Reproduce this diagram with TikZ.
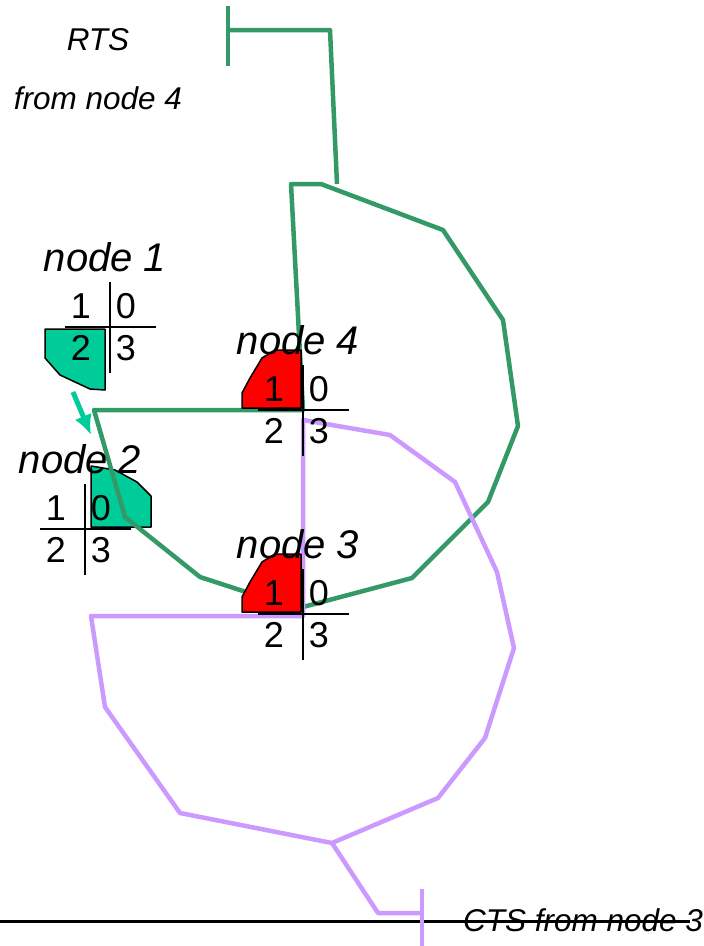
\documentclass[tikz,border=0pt]{standalone}
\usepackage{fontspec}
\setmainfont{Liberation Sans}
\usetikzlibrary{arrows.meta}
\definecolor{rtsgreen}{HTML}{339966}
\definecolor{ctspurple}{HTML}{CC99FF}
\definecolor{busyteal}{HTML}{00CC99}
\definecolor{busyred}{HTML}{FF0000}

\begin{document}
\begin{tikzpicture}[x=1pt,y=-1pt,
  lbl/.style={font=\itshape\fontsize{31.5}{34}\selectfont,inner sep=0pt},
  ttl/.style={font=\itshape\fontsize{40}{42}\selectfont,inner sep=0pt},
  dgt/.style={font=\fontsize{36}{38}\selectfont,inner sep=0pt},
  rts/.style={draw=rtsgreen,line width=4.5pt,line join=round},
  cts/.style={draw=ctspurple,line width=4.5pt,line join=round},
  busy/.style={draw=black,line width=1.5pt,line join=round}]
\useasboundingbox (0,0) rectangle (704,946);

\node[lbl] (rts) at (98,40) {RTS};
\node[lbl] (rtsfrom) at (98,98) {from node 4};

\fill[busy,fill=busyteal] (45,329) -- (105,329) -- (105,390) -- (90,389) -- (60,375) -- (45,358) -- cycle;
\fill[busy,fill=busyteal] (91,466) -- (115,470) -- (137,482) -- (151,496) -- (151,527) -- (91,527) -- cycle;
\coordinate (from1) at (73,392);
\coordinate (to2) at (91,435);
\draw[busyteal,line width=5pt,-{Latex[length=20pt,width=18pt]}] (from1) -- (to2);

\draw[rts] (228,6) -- (228,66);
\draw[rts] (228,30) -- (330,30) -- (337,184);
\draw[rts] (303,410) -- (94,410) -- (125,517) -- (200,577) -- (243,591) -- (303,607) -- (412,578) -- (488,502) -- (518,426) -- (503,320) -- (443,230) -- (321,184) -- (291,184) -- cycle;

\draw[line width=3pt] (0,921) -- (690,921);
\draw[cts] (303,616) -- (91,616) -- (105,707) -- (180,813) -- (332,843) -- (438,798) -- (485,738) -- (514,648) -- (497,572) -- (455,482) -- (390,435) -- (303,420) -- cycle;
\draw[cts] (332,843) -- (378,913) -- (422,913);
\draw[cts] (422,889) -- (422,946);

\foreach \y in {410,614}
  \fill[busy,fill=busyred] (242,\y-2) -- (242,\y-17) -- (250,\y-32) -- (262,\y-52) -- (275,\y-60) -- (301,\y-60) -- (301,\y-2) -- cycle;

\foreach \n/\x/\y in {1/110/327,2/85/529,3/303/614,4/303/410}{
  \draw[line width=2pt] (\x-45,\y) -- (\x+46,\y);
  \draw[line width=2pt] (\x,\y-45) -- (\x,\y+46);
  \node[dgt] (d\n a) at (\x-29,\y-21) {1};
  \node[dgt] (d\n b) at (\x+16,\y-21) {0};
  \node[dgt] (d\n c) at (\x-29,\y+21) {2};
  \node[dgt] (d\n d) at (\x+16,\y+21) {3};
  \node[ttl] (t\n) at (\x-5,\y-70) {node \n};
}

\node[lbl,anchor=west] (cts) at (463,920) {CTS from node 3};
\end{tikzpicture}
\end{document}
